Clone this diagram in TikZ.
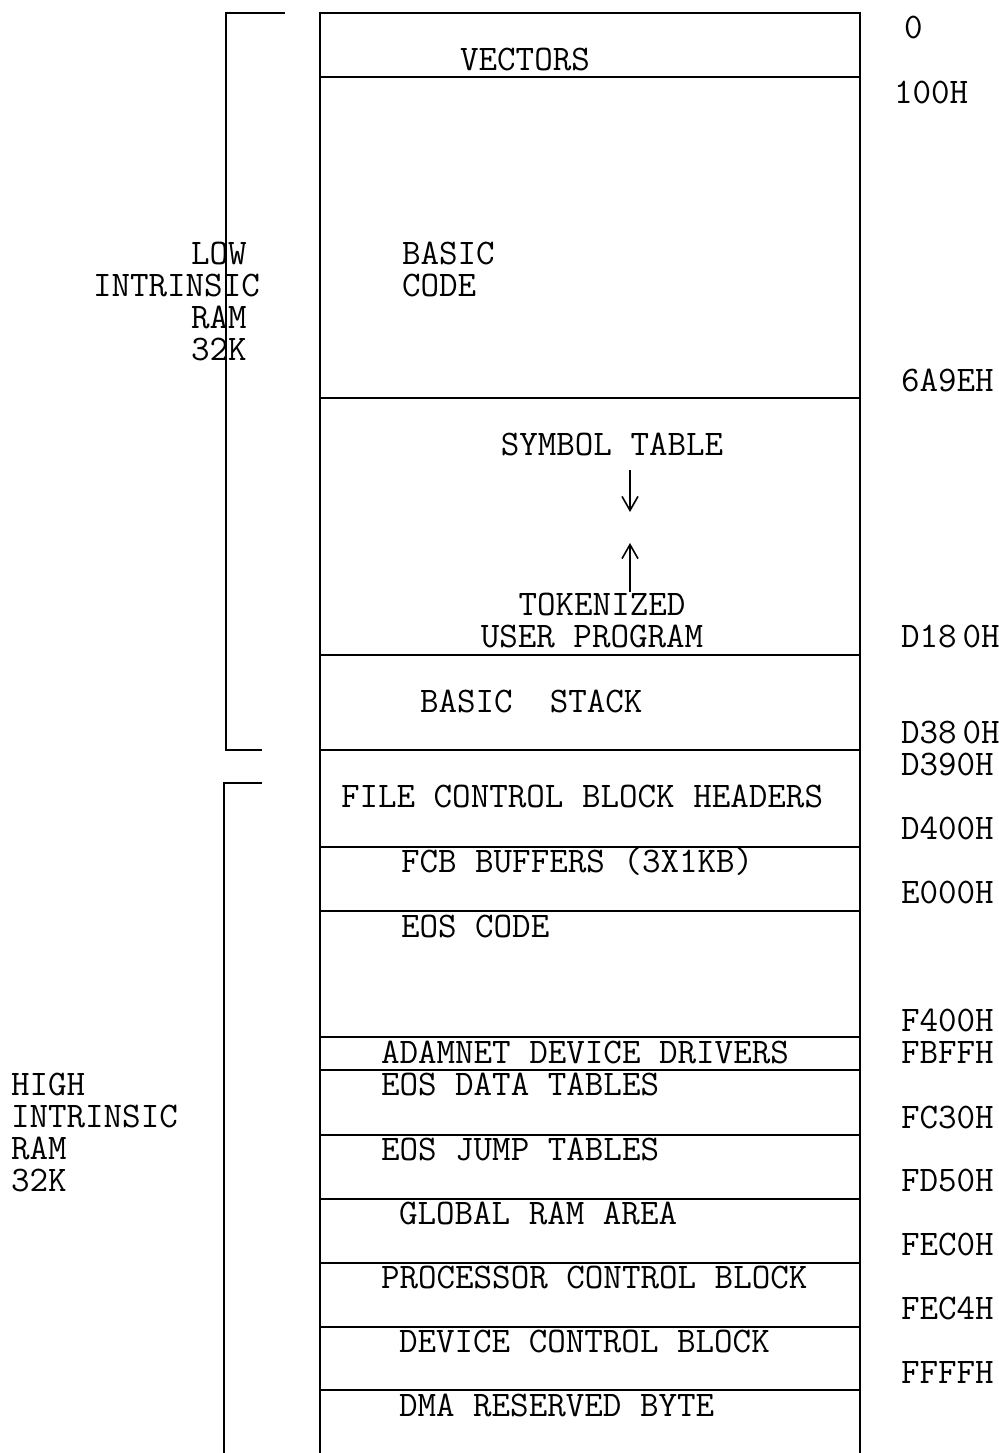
\documentclass[tikz,border=0pt]{standalone}
\usetikzlibrary{arrows.meta}
\begin{document}
\begin{tikzpicture}[x=0.5pt,y=-0.5pt,
  line width=1pt,
  lbl/.style={font=\fontsize{18}{18}\selectfont\ttfamily, inner sep=0pt, anchor=base west},
  clbl/.style={font=\fontsize{18}{18}\selectfont\ttfamily, inner sep=0pt, anchor=base},
  barb/.style={-{Straight Barb[length=7pt,width=8pt,line width=0.8pt]}, line width=0.9pt}]
\useasboundingbox (0,0) rectangle (998,1453);
% memory box
\draw (320,1453) -- (320,13) -- (860,13) -- (860,1453);
\foreach \y in {77,398,655,750,847,911,1037,1070,1135,1199,1263,1327,1390}
  \draw (320,\y) -- (860,\y);
% brackets
\draw (285,13) -- (226,13) -- (226,750) -- (262,750);
\draw (262,783) -- (224,783) -- (224,1453);
% region labels
\node[clbl] (vec) at (525,70) {VECTORS};
\node[lbl] (bas1) at (401,264) {BASIC};
\node[lbl] (bas2) at (401,296) {CODE};
\node[clbl] (sym) at (612,455) {SYMBOL TABLE};
\node[clbl] (tok) at (602,615) {TOKENIZED};
\node[clbl] (usr) at (592,647) {USER PROGRAM};
\node[lbl] (stk) at (419,712) {BASIC\ \ STACK};
\node[lbl] (fcbh) at (340,807) {FILE CONTROL BLOCK HEADERS};
\node[lbl] (fcbb) at (400,872) {FCB BUFFERS (3X1KB)};
\node[lbl] (eosc) at (400,937) {EOS CODE};
\node[lbl] (adam) at (380,1063) {ADAMNET DEVICE DRIVERS};
\node[lbl] (eosd) at (380,1095) {EOS DATA TABLES};
\node[lbl] (eosj) at (380,1160) {EOS JUMP TABLES};
\node[lbl] (glob) at (398,1224) {GLOBAL RAM AREA};
\node[lbl] (pcb) at (380,1288) {PROCESSOR CONTROL BLOCK};
\node[lbl] (dcb) at (398,1352) {DEVICE CONTROL BLOCK};
\node[lbl] (dma) at (398,1416) {DMA RESERVED BYTE};
% arrows
\coordinate (d1) at (630,470);
\coordinate (d2) at (630,512);
\coordinate (u1) at (630,592);
\coordinate (u2) at (630,543);
\draw[barb] (d1) -- (d2);
\draw[barb] (u1) -- (u2);
% addresses
\node[lbl] (a0) at (903,38) {0};
\node[lbl] (a1) at (893,103) {100H};
\node[lbl] (a2) at (900,391) {6A9EH};
\node[lbl] (a3) at (900,647) {D18\,0H};
\node[lbl] (a4) at (900,743) {D38\,0H};
\node[lbl] (a5) at (900,775) {D390H};
\node[lbl] (a6) at (900,839) {D400H};
\node[lbl] (a7) at (900,903) {E000H};
\node[lbl] (a8) at (900,1031) {F400H};
\node[lbl] (a9) at (900,1063) {FBFFH};
\node[lbl] (a10) at (900,1128) {FC30H};
\node[lbl] (a11) at (900,1191) {FD50H};
\node[lbl] (a12) at (900,1255) {FEC0H};
\node[lbl] (a13) at (900,1319) {FEC4H};
\node[lbl] (a14) at (900,1383) {FFFFH};
% side labels
\node[lbl] (l1) at (190,264) {LOW};
\node[lbl] (l2) at (92,296) {INTRINSIC};
\node[lbl] (l3) at (190,328) {RAM};
\node[lbl] (l4) at (190,360) {32K};
\node[lbl] (h1) at (10,1095) {HIGH};
\node[lbl] (h2) at (10,1127) {INTRINSIC};
\node[lbl] (h3) at (10,1159) {RAM};
\node[lbl] (h4) at (10,1191) {32K};
\end{tikzpicture}
\end{document}
